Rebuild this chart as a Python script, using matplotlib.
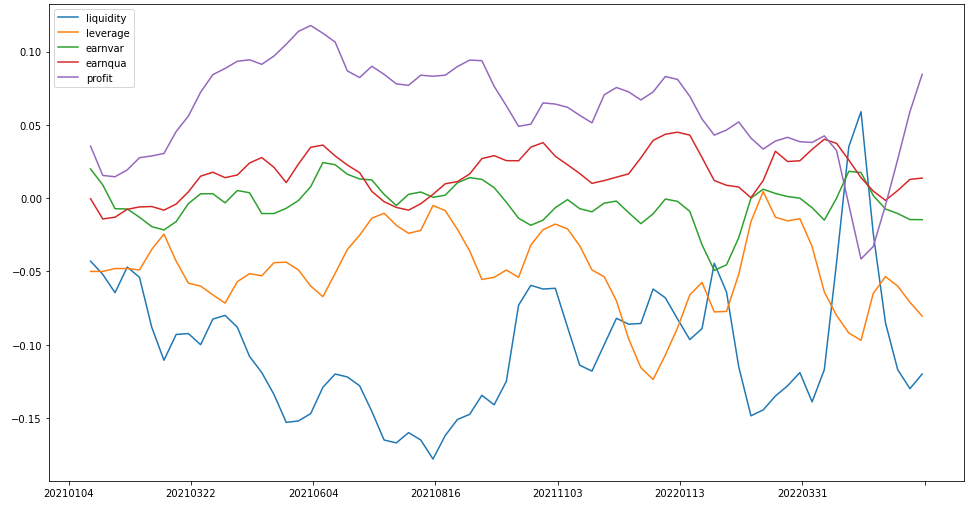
import numpy as np
from matplotlib import pyplot as plt

idx = np.arange(9, 350, 5)

tick_pos = [0, 50, 100, 150, 200, 250, 300, 350]
tick_labels = ["20210104", "20210322", "20210604", "20210816",
               "20211103", "20220113", "20220331", ""]

liquidity = [
    -0.043, -0.052, -0.0645, -0.047, -0.054, -0.088, -0.1106, -0.093, -0.0924, -0.100,
    -0.0825, -0.080, -0.088, -0.108, -0.119, -0.134, -0.153, -0.152, -0.147, -0.129,
    -0.120, -0.122, -0.128, -0.1455, -0.165, -0.167, -0.160, -0.165, -0.178, -0.162,
    -0.151, -0.1475, -0.1345, -0.141, -0.125, -0.073, -0.0595, -0.062, -0.0615, -0.088,
    -0.114, -0.118, -0.100, -0.082, -0.086, -0.0855, -0.062, -0.068, -0.0825, -0.0965,
    -0.089, -0.0444, -0.064, -0.115, -0.1485, -0.1445, -0.135, -0.128, -0.119, -0.139,
    -0.117, -0.044, 0.035, 0.059, -0.024, -0.085, -0.117, -0.130, -0.120,
]
leverage = [
    -0.050, -0.050, -0.048, -0.048, -0.049, -0.035, -0.0245, -0.043, -0.058, -0.060,
    -0.066, -0.0716, -0.057, -0.0515, -0.053, -0.044, -0.0437, -0.049, -0.060, -0.0672,
    -0.0513, -0.035, -0.0253, -0.0137, -0.0103, -0.0185, -0.024, -0.022, -0.005, -0.0085,
    -0.0213, -0.036, -0.0555, -0.054, -0.049, -0.054, -0.032, -0.0215, -0.0177, -0.021,
    -0.0325, -0.049, -0.0536, -0.070, -0.096, -0.1157, -0.1237, -0.107, -0.0885, -0.066,
    -0.0575, -0.0776, -0.0773, -0.052, -0.016, 0.0045, -0.013, -0.0155, -0.014, -0.033,
    -0.064, -0.080, -0.092, -0.097, -0.065, -0.0535, -0.060, -0.071, -0.0805,
]
earnvar = [
    0.0199, 0.009, -0.0072, -0.0074, -0.013, -0.0194, -0.0217, -0.016, -0.0037, 0.003,
    0.003, -0.0032, 0.0052, 0.0037, -0.0105, -0.0105, -0.0069, -0.0016, 0.0078, 0.0243,
    0.0228, 0.0163, 0.0131, 0.0124, 0.0026, -0.005, 0.0026, 0.0042, 0.0006, 0.002,
    0.0105, 0.014, 0.0128, 0.0072, -0.0028, -0.0137, -0.0185, -0.015, -0.0065, -0.001,
    -0.0072, -0.0093, -0.0034, -0.002, -0.0099, -0.0174, -0.0107, -0.0006, -0.0022, -0.009,
    -0.0318, -0.0493, -0.0455, -0.027, 0.0, 0.0061, 0.0032, 0.0011, 0.0, -0.0065,
    -0.015, 0.0, 0.0183, 0.0175, 0.0018, -0.0074, -0.0105, -0.0146, -0.0147,
]
earnqua = [
    -0.0004, -0.0142, -0.013, -0.0076, -0.006, -0.0057, -0.0082, -0.004, 0.0043, 0.015,
    0.0177, 0.014, 0.0158, 0.024, 0.0277, 0.021, 0.0106, 0.0233, 0.0347, 0.0362,
    0.0288, 0.0226, 0.0174, 0.0046, -0.0024, -0.0063, -0.0082, -0.0038, 0.0026, 0.0098,
    0.0113, 0.0165, 0.027, 0.029, 0.0256, 0.0255, 0.0348, 0.0379, 0.0286, 0.0228,
    0.0168, 0.0101, 0.012, 0.0143, 0.0166, 0.0275, 0.0394, 0.0436, 0.045, 0.043,
    0.0277, 0.012, 0.0088, 0.0076, 0.0003, 0.012, 0.032, 0.025, 0.0255, 0.0333,
    0.0402, 0.0374, 0.026, 0.014, 0.0048, -0.0015, 0.0052, 0.0128, 0.0137,
]
profit = [
    0.0355, 0.0155, 0.0146, 0.0193, 0.0276, 0.0288, 0.0305, 0.0455, 0.056, 0.0723,
    0.0843, 0.0885, 0.0934, 0.0944, 0.0913, 0.097, 0.105, 0.1138, 0.1178, 0.1125,
    0.1065, 0.0868, 0.0823, 0.090, 0.0845, 0.078, 0.077, 0.0839, 0.0832, 0.0839,
    0.0898, 0.0942, 0.0938, 0.0763, 0.063, 0.049, 0.0505, 0.065, 0.0642, 0.062,
    0.0565, 0.0514, 0.0705, 0.0755, 0.0725, 0.067, 0.0725, 0.083, 0.081, 0.0695,
    0.054, 0.043, 0.0465, 0.052, 0.041, 0.0335, 0.039, 0.0415, 0.0385, 0.038,
    0.0425, 0.0325, -0.0045, -0.0415, -0.033, -0.005, 0.0265, 0.059, 0.0845,
]

series = {
    "liquidity": liquidity,
    "leverage": leverage,
    "earnvar": earnvar,
    "earnqua": earnqua,
    "profit": profit,
}

fig, ax = plt.subplots(figsize=(13.5, 7.04), dpi=72)
fig.subplots_adjust(left=0.0504, right=0.9915, top=0.9907, bottom=0.0499)

for name, vals in series.items():
    ax.plot(idx, vals, label=name, linewidth=1.5)

ax.set_xticks(tick_pos)
ax.set_xticklabels(tick_labels)
ax.legend(loc="upper left")

plt.savefig("out.png", dpi=72)
plt.close()
